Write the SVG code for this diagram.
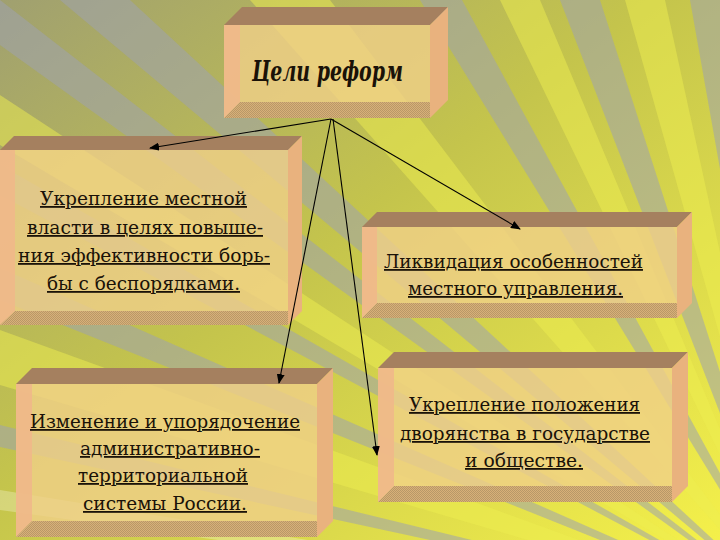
<svg xmlns="http://www.w3.org/2000/svg" width="720" height="540" viewBox="0 0 720 540">
<defs>
<linearGradient id="bg" x1="0" y1="0" x2="1" y2="1">
<stop offset="0" stop-color="#a0a070"/>
<stop offset="0.45" stop-color="#c4c44c"/>
<stop offset="1" stop-color="#f4f04a"/>
</linearGradient>
<pattern id="hatch" width="2" height="2" patternUnits="userSpaceOnUse">
<rect width="2" height="2" fill="#d8b078"/>
<rect width="1" height="1" fill="#b89868"/>
<rect x="1" y="1" width="1" height="1" fill="#b89868"/>
</pattern>
<marker id="arr" markerWidth="10" markerHeight="8" refX="9" refY="4" orient="auto" markerUnits="userSpaceOnUse">
<path d="M0,0 L10,4 L0,8 Z" fill="#000"/>
</marker>
<style>
.top{fill:#a5805f}
.side{fill:#e9b27e}
.front{fill:#f0d088;fill-opacity:0.8}
.lstrip{fill:#f0b88a;fill-opacity:0.9}
.bstrip{fill:url(#hatch)}
.t{font-size:18px;fill:#1a1208;text-decoration:underline}
.title{font-size:27px;font-weight:bold;font-style:italic;fill:#1a1208}
.con line{stroke:#000;stroke-width:1.1;marker-end:url(#arr)}
.gray{fill:#9ea2ae;fill-opacity:0.55}
.yel{fill:#eeee50;fill-opacity:0.5}
.wht{fill:#f4f4d0;fill-opacity:0.35}
</style>
</defs>
<g id="background">
<rect width="720" height="540" fill="url(#bg)"/>
<polygon class="gray" points="800,620 0,0 0,45"/>
<polygon class="gray" points="800,620 0,165 0,195"/>
<polygon class="gray" points="800,620 0,268 0,300"/>
<polygon class="gray" points="800,620 0,425 0,447"/>
<polygon class="gray" points="800,620 60,0 130,0"/>
<polygon class="gray" points="800,620 420,0 462,0"/>
<polygon class="gray" points="800,620 560,0 600,0"/>
<polygon class="gray" points="800,620 690,0 720,0 720,20"/>
<polygon class="gray" points="800,620 720,140 720,165"/>
<polygon class="yel" points="800,620 0,95 0,145"/>
<polygon class="yel" points="800,620 0,330 0,385"/>
<polygon class="yel" points="800,620 250,0 330,0"/>
<polygon class="yel" points="800,620 500,0 540,0"/>
<polygon class="yel" points="800,620 625,0 665,0"/>
<polygon class="wht" points="800,620 720,250 720,280"/>
<polygon class="wht" points="800,620 720,380 720,400"/>
<polygon class="wht" points="800,620 0,490 0,510"/>
</g>
<g font-family="DejaVu Serif, Liberation Serif, serif">
<g id="node-goals">
<polygon class="top" points="224,25 242,7 448,7 430,25"/>
<polygon class="side" points="430,25 448,7 448,100 430,118"/>
<rect class="front" x="224" y="25" width="206" height="93"/>
<polygon class="lstrip" points="224,25 240,25 240,102 224,118"/>
<polygon class="bstrip" points="224,118 240,102 430,102 430,118"/>
<text class="title" x="252" y="81" textLength="151" lengthAdjust="spacingAndGlyphs">Цели реформ</text>
</g>
<g id="node-local-power">
<polygon class="top" points="0,150 14,136 302,136 288,150"/>
<polygon class="side" points="288,150 302,136 302,311 288,325"/>
<rect class="front" x="0" y="150" width="288" height="175"/>
<polygon class="lstrip" points="0,150 15,150 15,311 0,325"/>
<polygon class="bstrip" points="0,325 15,311 288,311 288,325"/>
<text class="t" x="40" y="205" textLength="207" lengthAdjust="spacingAndGlyphs">Укрепление местной</text>
<text class="t" x="27" y="234" textLength="236" lengthAdjust="spacingAndGlyphs">власти в целях повыше-</text>
<text class="t" x="18" y="262" textLength="252" lengthAdjust="spacingAndGlyphs">ния эффективности борь-</text>
<text class="t" x="47" y="290" textLength="193" lengthAdjust="spacingAndGlyphs">бы с беспорядками.</text>
</g>
<g id="node-liquidation">
<polygon class="top" points="362,227 377,212 692,212 677,227"/>
<polygon class="side" points="677,227 692,212 692,303 677,318"/>
<rect class="front" x="362" y="227" width="315" height="91"/>
<polygon class="lstrip" points="362,227 377,227 377,303 362,318"/>
<polygon class="bstrip" points="362,318 377,303 677,303 677,318"/>
<text class="t" x="384" y="268" textLength="259" lengthAdjust="spacingAndGlyphs">Ликвидация особенностей</text>
<text class="t" x="408" y="295" textLength="215" lengthAdjust="spacingAndGlyphs">местного управления.</text>
</g>
<g id="node-admin">
<polygon class="top" points="16,384 32,368 333,368 317,384"/>
<polygon class="side" points="317,384 333,368 333,521 317,537"/>
<rect class="front" x="16" y="384" width="301" height="153"/>
<polygon class="lstrip" points="16,384 32,384 32,521 16,537"/>
<polygon class="bstrip" points="16,537 32,521 317,521 317,537"/>
<text class="t" x="30" y="428" textLength="270" lengthAdjust="spacingAndGlyphs">Изменение и упорядочение</text>
<text class="t" x="80" y="455" textLength="180" lengthAdjust="spacingAndGlyphs">административно-</text>
<text class="t" x="78" y="482" textLength="170" lengthAdjust="spacingAndGlyphs">территориальной</text>
<text class="t" x="83" y="510" textLength="164" lengthAdjust="spacingAndGlyphs">системы России.</text>
</g>
<g id="node-nobility">
<polygon class="top" points="378,368 394,352 688,352 672,368"/>
<polygon class="side" points="672,368 688,352 688,486 672,502"/>
<rect class="front" x="378" y="368" width="294" height="134"/>
<polygon class="lstrip" points="378,368 394,368 394,486 378,502"/>
<polygon class="bstrip" points="378,502 394,486 672,486 672,502"/>
<text class="t" x="409" y="411" textLength="231" lengthAdjust="spacingAndGlyphs">Укрепление положения</text>
<text class="t" x="400" y="440" textLength="250" lengthAdjust="spacingAndGlyphs">дворянства в государстве</text>
<text class="t" x="465" y="467" textLength="118" lengthAdjust="spacingAndGlyphs">и обществе.</text>
</g>
</g>
<g id="connectors" class="con">
<line x1="331" y1="119" x2="150" y2="148"/>
<line x1="331" y1="119" x2="520" y2="229"/>
<line x1="331" y1="119" x2="279" y2="383"/>
<line x1="333" y1="119" x2="377" y2="455"/>
</g>
</svg>
